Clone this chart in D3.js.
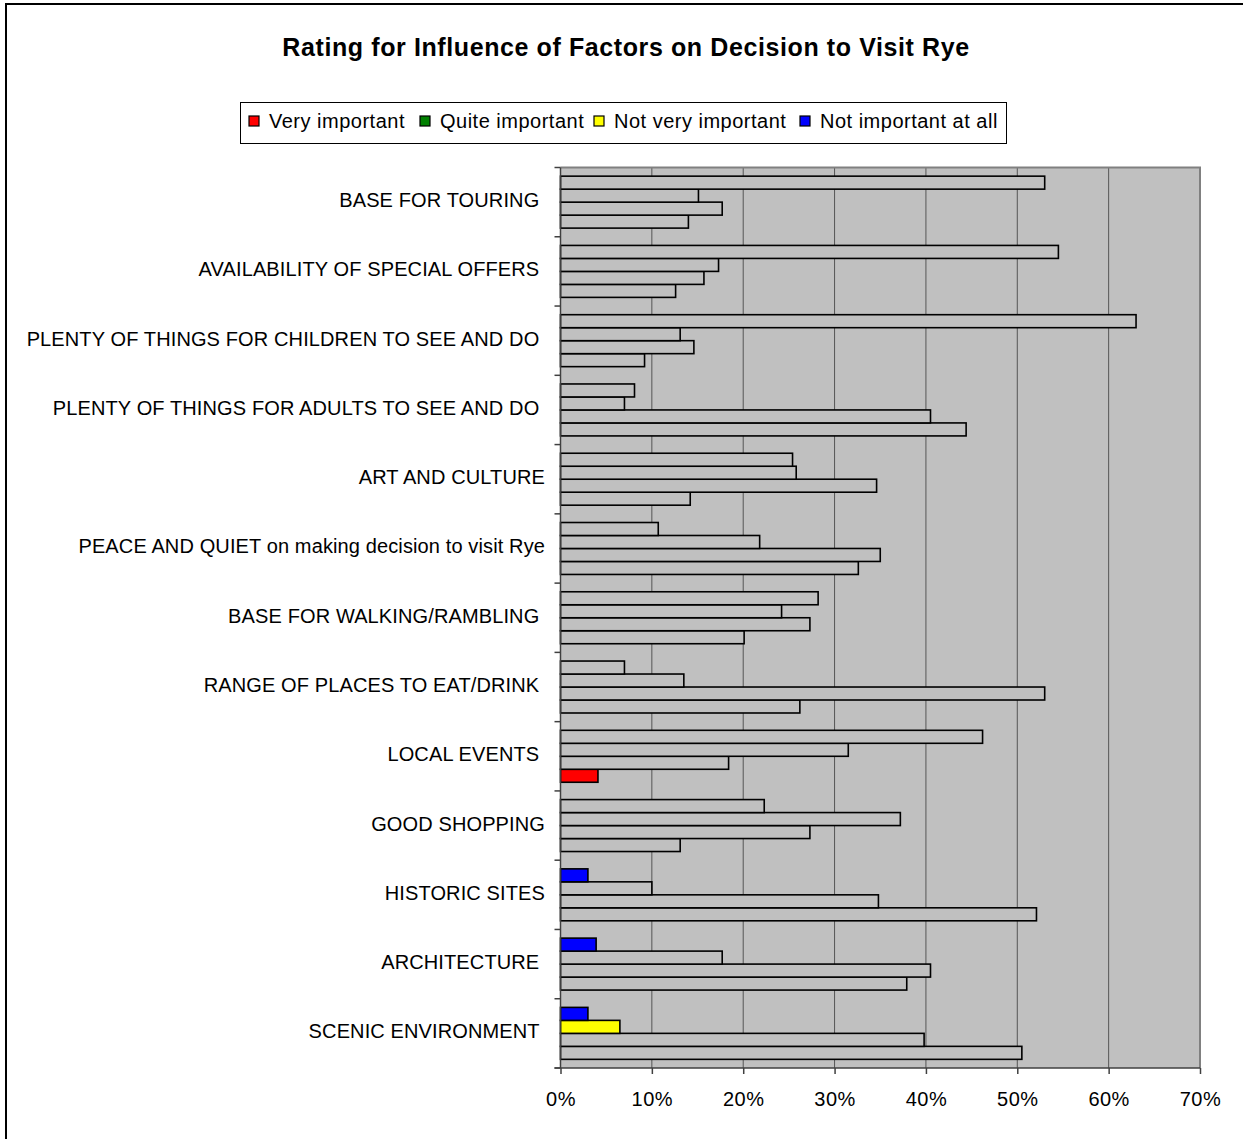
<!DOCTYPE html>
<html>
<head>
<meta charset="utf-8">
<script src="https://cdn.jsdelivr.net/npm/d3@7"></script>
<style>
  html, body { margin: 0; padding: 0; background: #ffffff; }
  svg text { font-family: "Liberation Sans", Arial, sans-serif; white-space: pre; }
</style>
</head>
<body>
<svg id="chart" width="1243" height="1139"></svg>
<script>
// Factors, listed top to bottom (a trailing space is part of some Excel labels)
const categories = [
  "BASE FOR TOURING ",
  "AVAILABILITY OF SPECIAL OFFERS ",
  "PLENTY OF THINGS FOR CHILDREN TO SEE AND DO ",
  "PLENTY OF THINGS FOR ADULTS TO SEE AND DO ",
  "ART AND CULTURE",
  "PEACE AND QUIET on making decision to visit Rye",
  "BASE FOR WALKING/RAMBLING ",
  "RANGE OF PLACES TO EAT/DRINK ",
  "LOCAL EVENTS ",
  "GOOD SHOPPING",
  "HISTORIC SITES",
  "ARCHITECTURE ",
  "SCENIC ENVIRONMENT "
];

// Rating levels in legend order
const series = ["Very important", "Quite important", "Not very important", "Not important at all"];
const seriesColours = ["#ff0000", "#008000", "#ffff00", "#0000ff"];

// Percentage of respondents per factor, one array per rating level
const veryImportant     = [14.0, 12.6,  9.2, 44.4, 14.2, 32.6, 20.1, 26.2,  4.1, 13.1, 52.1, 37.9, 50.5];
const quiteImportant    = [17.7, 15.7, 14.6, 40.5, 34.6, 35.0, 27.3, 53.0, 18.4, 27.3, 34.8, 40.5, 39.8];
const notVeryImportant  = [15.1, 17.3, 13.1,  7.0, 25.8, 21.8, 24.2, 13.5, 31.5, 37.2, 10.0, 17.7,  6.5];
const notImportantAtAll = [53.0, 54.5, 63.0,  8.1, 25.4, 10.7, 28.2,  7.0, 46.2, 22.3,  3.0,  3.9,  3.0];
const seriesValues = [veryImportant, quiteImportant, notVeryImportant, notImportantAtAll];

// Bars that keep their series colour; the rest share the plot-area grey
const colouredBars = [
  ["LOCAL EVENTS ", "Very important"],
  ["HISTORIC SITES", "Not important at all"],
  ["ARCHITECTURE ", "Not important at all"],
  ["SCENIC ENVIRONMENT ", "Not important at all"],
  ["SCENIC ENVIRONMENT ", "Not very important"]
];

const xTicks = [0, 10, 20, 30, 40, 50, 60, 70];
const xTickLabels = ["0%", "10%", "20%", "30%", "40%", "50%", "60%", "70%"];

const plotBg = "#c0c0c0";
const svg = d3.select("#chart");

// Outer chart frame (runs past the window on the right and bottom)
svg.append("rect")
  .attr("x", 6).attr("y", 4).attr("width", 1300).attr("height", 1200)
  .attr("fill", "#ffffff").attr("stroke", "#000000").attr("stroke-width", 2);

const plot = { left: 560.5, right: 1200, top: 167.5, bottom: 1068 };

const x = d3.scaleLinear().domain([0, 70]).range([plot.left, plot.right]);
const y = d3.scaleBand().domain(categories).range([plot.top, plot.bottom])
  .paddingInner(0.25).paddingOuter(0.125);
// Bars inside a group: last series on top, first series at the bottom
const yInner = d3.scaleBand().domain(series.slice().reverse()).range([0, y.bandwidth()]);

// Plot area
svg.append("rect")
  .attr("x", plot.left).attr("y", plot.top)
  .attr("width", plot.right - plot.left).attr("height", plot.bottom - plot.top)
  .attr("fill", plotBg);

// Vertical gridlines
svg.append("g")
  .selectAll("line")
  .data(xTicks.filter(t => t > 0 && t < 70))
  .join("line")
  .attr("x1", d => x(d)).attr("x2", d => x(d))
  .attr("y1", plot.top).attr("y2", plot.bottom)
  .attr("stroke", "#555555").attr("stroke-width", 1);

// Plot border on top and right
svg.append("path")
  .attr("d", `M${plot.left},${plot.top}H${plot.right}V${plot.bottom}`)
  .attr("fill", "none").attr("stroke", "#808080").attr("stroke-width", 2);

// Bars
const barData = [];
categories.forEach((c, i) => {
  series.forEach((s, j) => {
    const coloured = colouredBars.some(p => p[0] === c && p[1] === s);
    barData.push({ category: c, series: s, value: seriesValues[j][i],
                   fill: coloured ? seriesColours[j] : plotBg });
  });
});

svg.append("g")
  .selectAll("rect")
  .data(barData)
  .join("rect")
  .attr("x", x(0))
  .attr("y", d => y(d.category) + yInner(d.series))
  .attr("width", d => x(d.value) - x(0))
  .attr("height", yInner.bandwidth())
  .attr("fill", d => d.fill)
  .attr("stroke", "#000000")
  .attr("stroke-width", 1.6);

// Category axis: tick marks at band boundaries
const yAxisG = svg.append("g");
const boundaries = categories.map(c => y(c) - y.step() * y.paddingOuter());
boundaries.push(plot.bottom);
yAxisG.selectAll("line.tick")
  .data(boundaries)
  .join("line")
  .attr("class", "tick")
  .attr("x1", plot.left - 6).attr("x2", plot.left)
  .attr("y1", d => d).attr("y2", d => d)
  .attr("stroke", "#404040").attr("stroke-width", 1.5);
yAxisG.append("line")
  .attr("x1", plot.left).attr("x2", plot.left)
  .attr("y1", plot.top).attr("y2", plot.bottom)
  .attr("stroke", "#404040").attr("stroke-width", 1.5);

yAxisG.selectAll("text")
  .data(categories)
  .join("text")
  .attr("x", 545)
  .attr("y", d => y(d) + y.bandwidth() / 2 - 2)
  .attr("dy", "0.35em")
  .attr("text-anchor", "end")
  .attr("font-size", 20)
  .attr("letter-spacing", 0.12)
  .attr("fill", "#000000")
  .text(d => d);

// Value axis
const xAxis = d3.axisBottom(x)
  .tickValues(xTicks)
  .tickFormat((d, i) => xTickLabels[i])
  .tickSize(6)
  .tickPadding(18);
const xAxisG = svg.append("g")
  .attr("transform", `translate(0,${plot.bottom})`)
  .call(xAxis);
xAxisG.select(".domain")
  .attr("d", `M${plot.left - 6},0H${plot.right}`)
  .attr("stroke", "#404040").attr("stroke-width", 1.5);
xAxisG.selectAll(".tick line").attr("stroke", "#404040").attr("stroke-width", 1.5);
xAxisG.selectAll(".tick text")
  .attr("font-size", 20)
  .attr("font-family", "Liberation Sans, Arial, sans-serif")
  .attr("letter-spacing", 0.5)
  .attr("fill", "#000000");

// Title
svg.append("text")
  .attr("x", 626).attr("y", 56)
  .attr("text-anchor", "middle")
  .attr("font-size", 25)
  .attr("font-weight", "bold")
  .attr("letter-spacing", 0.6)
  .text("Rating for Influence of Factors on Decision to Visit Rye");

// Legend
const legend = svg.append("g");
legend.append("rect")
  .attr("x", 240.5).attr("y", 102.5).attr("width", 766).attr("height", 41)
  .attr("fill", "#ffffff").attr("stroke", "#000000").attr("stroke-width", 1);

const legendX = [249, 420, 594, 800];
const items = legend.selectAll("g.item")
  .data(series)
  .join("g")
  .attr("class", "item")
  .attr("transform", (d, i) => `translate(${legendX[i]},0)`);
items.append("rect")
  .attr("x", 0).attr("y", 116).attr("width", 10).attr("height", 10)
  .attr("fill", (d, i) => seriesColours[i])
  .attr("stroke", "#000000").attr("stroke-width", 1.2);
items.append("text")
  .attr("x", 20).attr("y", 128)
  .attr("font-size", 20)
  .attr("letter-spacing", 0.5)
  .text(d => d);
</script>
</body>
</html>
